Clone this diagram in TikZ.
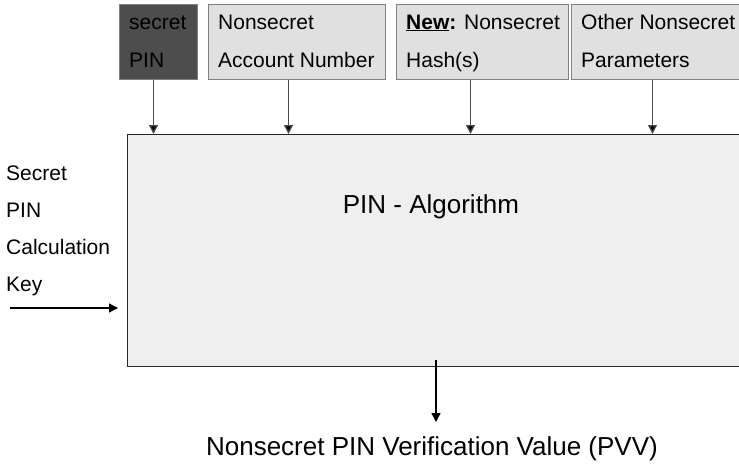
\documentclass[tikz,border=0pt]{standalone}
\usepackage{fontspec}
\setmainfont{Liberation Sans}
\usetikzlibrary{arrows.meta}
\definecolor{darkbox}{HTML}{4D4D4D}
\definecolor{lightbox}{HTML}{E0E0E0}
\definecolor{algofill}{HTML}{EFEFEF}
\definecolor{boxline}{HTML}{808080}
\definecolor{arrline}{HTML}{4A4A4A}
\begin{document}
\begin{tikzpicture}[x=1pt,y=-1pt,
  inbox/.style={draw=boxline, line width=1pt, fill=lightbox, anchor=north west,
                minimum height=75pt, inner sep=0pt},
  algobox/.style={draw=black!85, line width=1.3pt, fill=algofill, anchor=north west,
                  minimum width=640pt, minimum height=232pt, inner sep=0pt},
  txt/.style={anchor=base west, inner sep=0pt, font=\fontsize{21}{25}\selectfont},
  bigtxt/.style={anchor=base, inner sep=0pt, font=\fontsize{26}{30}\selectfont},
  feed/.style={draw=arrline, line width=1.3pt, -{Triangle[length=9pt,width=9pt,fill=black]}},
  feedblack/.style={draw=black, line width=1.3pt, -{Triangle[length=9pt,width=9pt]}},
]
\clip (0,0) rectangle (739,464);
% input boxes
\node[inbox, fill=darkbox, minimum width=78pt] (pin) at (119,4) {};
\node[inbox, minimum width=177pt] (acct) at (208,4) {};
\node[inbox, minimum width=172pt] (hash) at (396,4) {};
\node[inbox, minimum width=180pt] (other) at (571,4) {};
% box texts
\node[txt] (pin1) at (129,29) {secret};
\node[txt] (pin2) at (129,67) {PIN};
\node[txt] (acct1) at (218,29) {Nonsecret};
\node[txt] (acct2) at (218,67) {Account Number};
\node[txt] (hash1) at (406,29) {\textbf{\underline{New}:} Nonsecret};
\node[txt] (hash2) at (406,67) {Hash(s)};
\node[txt] (other1) at (581,29) {Other Nonsecret};
\node[txt] (other2) at (581,67) {Parameters};
% algorithm box
\node[algobox] (algo) at (127,134) {};
\node[bigtxt] (title) at (431,213) {PIN - Algorithm};
% key label
\node[txt] (k1) at (6,180) {Secret};
\node[txt] (k2) at (6,217) {PIN};
\node[txt] (k3) at (6,254) {Calculation};
\node[txt] (k4) at (6,291) {Key};
% output
\node[bigtxt] (pvv) at (432,455) {Nonsecret PIN Verification Value (PVV)};
% connectors
\draw[feed] ([xshift=-5pt]pin.south) -- ([xshift=-5pt]pin.south |- algo.north);
\draw[feed] ([xshift=-8.5pt]acct.south) -- ([xshift=-8.5pt]acct.south |- algo.north);
\draw[feed] ([xshift=-12pt]hash.south) -- ([xshift=-12pt]hash.south |- algo.north);
\draw[feed] ([xshift=-9pt]other.south) -- ([xshift=-9pt]other.south |- algo.north);
\coordinate (keystart) at (10,308);
\coordinate (keyend) at (118,308);
\draw[feedblack] (keystart) -- (keyend);
\coordinate (outstart) at (436,360);
\coordinate (outend) at (436,422);
\draw[feedblack] (outstart) -- (outend);
\end{tikzpicture}
\end{document}
